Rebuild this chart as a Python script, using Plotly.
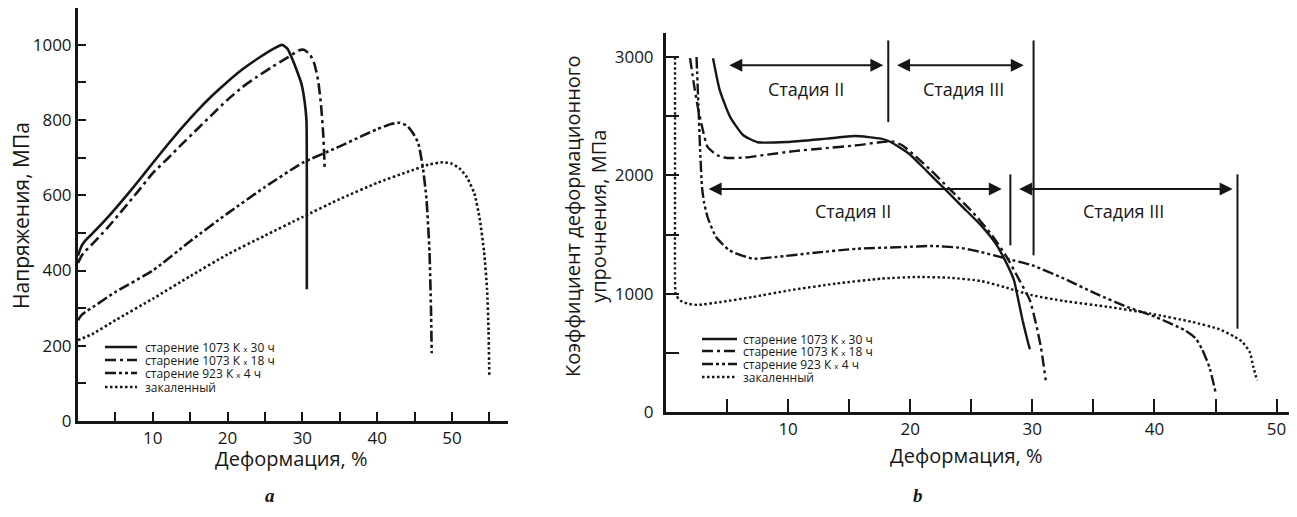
import plotly.graph_objects as go

# page body adds an 8px margin; lay out in screenshot pixels and compensate
OFF = 8
W, H = 1297 - OFF, 517 - OFF

# ---------------- Panel a: stress vs strain ----------------
a_30h_x = [0, 0.5, 1, 2, 4, 6, 8, 10, 12, 14, 16, 18, 20, 22, 24, 26, 27.3, 28.0, 28.6, 29.3, 29.9, 30.3, 30.55, 30.6, 30.6]
a_30h_y = [440, 466, 480, 500, 542, 588, 636, 686, 735, 782, 826, 866, 902, 935, 963, 988, 1000, 990, 965, 930, 895, 850, 800, 650, 350]

a_18h_x = [0, 0.5, 1, 2, 4, 6, 8, 10, 12, 14, 16, 18, 20, 22, 24, 26, 28, 29.5, 30.2, 31.0, 31.6, 32.1, 32.5, 32.8, 33.0]
a_18h_y = [420, 440, 452, 472, 515, 562, 610, 659, 698, 738, 777, 816, 854, 888, 916, 942, 966, 985, 987, 975, 950, 907, 840, 760, 668]

a_4h_x = [0, 0.5, 1, 2, 5, 10, 15, 20, 25, 30, 35, 38, 40, 42, 43, 44, 44.8, 45.5, 46.1, 46.6, 47.0, 47.2, 47.3]
a_4h_y = [268, 282, 290, 303, 343, 400, 478, 552, 622, 686, 730, 758, 776, 790, 793, 785, 765, 739, 676, 590, 450, 300, 180]

a_q_x = [0, 2, 5, 10, 15, 20, 25, 30, 35, 40, 44, 47, 48.8, 50, 51, 52, 53, 53.7, 54.3, 54.7, 54.9, 55.0]
a_q_y = [215, 232, 268, 325, 385, 443, 493, 542, 590, 633, 662, 682, 688, 684, 672, 648, 605, 540, 450, 350, 240, 120]

# ---------------- Panel b: strain hardening coefficient ----------------
b_30h_x = [3.85, 4.4, 5.25, 6.3, 7.5, 9.9, 13.1, 15.5, 17.6, 18.4, 19.9, 21.3, 22.8, 24.3, 25.8, 27.0, 27.9, 28.5, 28.8, 29.2, 29.6, 29.8]
b_30h_y = [2990, 2720, 2494, 2341, 2280, 2282, 2310, 2332, 2310, 2282, 2183, 2042, 1887, 1732, 1577, 1423, 1254, 1113, 972, 775, 606, 530]

b_18h_x = [1.97, 2.3, 2.6, 3.0, 3.4, 4.2, 5.0, 6.4, 8.3, 10.5, 12.6, 15.7, 17.5, 18.6, 19.4, 20.2, 21.7, 23.2, 25.1, 26.6, 27.9, 28.8, 29.8, 30.3, 30.7, 31.1]
b_18h_y = [2990, 2760, 2580, 2390, 2240, 2170, 2147, 2150, 2175, 2205, 2225, 2255, 2280, 2285, 2250, 2183, 2042, 1887, 1690, 1507, 1310, 1141, 944, 746, 549, 268]

b_4h_x = [2.5, 2.65, 2.8, 2.95, 3.1, 3.4, 4.1, 5.2, 7.1, 9.0, 12.0, 15.7, 19.5, 21.7, 24.0, 25.8, 27.9, 30.0, 32.6, 35.2, 37.8, 40.1, 42.5, 43.4, 43.9, 44.5, 45.0]
b_4h_y = [3000, 2600, 2200, 1900, 1780, 1648, 1479, 1366, 1296, 1310, 1344, 1380, 1394, 1403, 1389, 1352, 1296, 1239, 1127, 1000, 887, 803, 690, 620, 530, 380, 169]

b_q_x = [0.74, 0.74, 0.74, 0.8, 1.2, 1.8, 2.6, 4.5, 7.1, 10.1, 13.9, 17.6, 20.6, 23.2, 25.8, 27.7, 30.0, 32.6, 36.3, 39.7, 43.1, 45.3, 46.5, 47.2, 47.8, 48.1, 48.4]
b_q_y = [3000, 2000, 1100, 990, 940, 915, 905, 930, 972, 1028, 1085, 1127, 1141, 1135, 1107, 1056, 986, 938, 887, 831, 761, 700, 640, 592, 507, 380, 268]

# stage markers (panel b)
stage_arrows = [(5.06, 17.8, 2930), (18.8, 29.3, 2930), (3.37, 27.5, 1885), (28.8, 46.4, 1885)]
stage_lines = [(18.2, 2450, 3140), (30.1, 1324, 3140), (28.2, 1408, 2008), (46.8, 704, 2008)]
stage_labels = [("Стадия II", 11.5, 2730), ("Стадия III", 24.4, 2730), ("Стадия II", 15.3, 1700), ("Стадия III", 37.5, 1700)]

series_names = ["старение 1073 К <span style='font-size:8px'>x</span> 30 ч",
                "старение 1073 К <span style='font-size:8px'>x</span> 18 ч",
                "старение 923 К <span style='font-size:8px'>x</span> 4 ч",
                "закаленный"]

a_ticks_x = [5, 10, 15, 20, 25, 30, 35, 40, 45, 50, 55]
a_ticks_y = list(range(0, 1001, 100))
b_ticks_x = [5, 10, 15, 20, 25, 30, 35, 40, 45, 50]
b_ticks_y = [0, 500, 1000, 1500, 2000, 2500, 3000]

DASH_SOLID = "solid"
DASH_DD = "11px,4px,3px,4px"
DASH_DDD = "11px,3px,3px,3px,3px,3px"
DASH_DOT = "2.5px,2.5px"
dashes = [DASH_SOLID, DASH_DD, DASH_DDD, DASH_DOT]
INK = "#161616"
FONT = "Open Sans"


def px(x):
    return (x - OFF) / W


def py(y):
    return 1 - (y - OFF) / H


fig = go.Figure()

a_series = [(a_30h_x, a_30h_y), (a_18h_x, a_18h_y), (a_4h_x, a_4h_y), (a_q_x, a_q_y)]
b_series = [(b_30h_x, b_30h_y), (b_18h_x, b_18h_y), (b_4h_x, b_4h_y), (b_q_x, b_q_y)]

for i, (xs, ys) in enumerate(a_series):
    fig.add_trace(go.Scatter(x=xs, y=ys, mode="lines", xaxis="x", yaxis="y",
                             line=dict(color=INK, width=2.6, dash=dashes[i], shape="spline", smoothing=0.5),
                             showlegend=False, hoverinfo="skip"))
for i, (xs, ys) in enumerate(b_series):
    fig.add_trace(go.Scatter(x=xs, y=ys, mode="lines", xaxis="x2", yaxis="y2",
                             line=dict(color=INK, width=2.4, dash=dashes[i], shape="spline", smoothing=0.5),
                             showlegend=False, hoverinfo="skip"))

tickfont = dict(family=FONT, size=17, color=INK)


def lab(vals, every):
    return [str(v) if v % every == 0 else "" for v in vals]


common = dict(showline=True, linecolor=INK, linewidth=3, ticks="inside", tickwidth=2, tickcolor=INK,
              showgrid=False, zeroline=False, tickfont=tickfont, automargin=False)

fig.update_layout(
    width=W, height=H, margin=dict(l=0, r=0, t=0, b=0, autoexpand=False),
    paper_bgcolor="white", plot_bgcolor="white",
    xaxis=dict(domain=[px(78), px(508)], range=[0, 57.5], anchor="y", ticklen=9,
               tickvals=a_ticks_x, ticktext=lab(a_ticks_x, 10), **common),
    yaxis=dict(domain=[py(421), py(8)], range=[0, 1098], anchor="x", ticklen=8,
               tickvals=a_ticks_y, ticktext=lab(a_ticks_y, 200), **common),
    xaxis2=dict(domain=[px(666), px(1290)], range=[0, 51.1], anchor="y2", ticklen=13,
                tickvals=b_ticks_x, ticktext=lab(b_ticks_x, 10), **common),
    yaxis2=dict(domain=[py(412), py(33)], range=[0, 3203], anchor="x2", ticklen=13,
                tickvals=b_ticks_y, ticktext=lab(b_ticks_y, 1000), ticklabelstandoff=6, **common),
)

ann = []
shapes = []


def text_at(t, x, y, size, angle=0, family=FONT):
    return dict(text=t, x=px(x), y=py(y), xref="paper", yref="paper", xanchor="center",
                yanchor="middle", textangle=angle, showarrow=False,
                font=dict(family=family, size=size, color=INK))


# axis titles
ann.append(text_at("Напряжения, МПа", 21, 216, 21, -90))
ann.append(text_at("Деформация, %", 291, 458, 20))
ann.append(text_at("Коэффициент деформационного<br>упрочнения, МПа", 585, 216, 20, -90))
ann.append(text_at("Деформация, %", 966, 455, 20))
ann.append(text_at("<b><i>a</i></b>", 270, 495, 19, 0, "Liberation Serif"))
ann.append(text_at("<b><i>b</i></b>", 918, 495, 19, 0, "Liberation Serif"))

# stage arrows, lines and labels
for x0, x1, yv in stage_arrows:
    ann.append(dict(x=x1, y=yv, ax=x0, ay=yv, xref="x2", yref="y2", axref="x2", ayref="y2",
                    text="", showarrow=True, arrowhead=2, arrowside="end+start", arrowsize=1.3,
                    arrowwidth=2, arrowcolor=INK))
for xv, y0, y1 in stage_lines:
    shapes.append(dict(type="line", xref="x2", yref="y2", x0=xv, x1=xv, y0=y0, y1=y1,
                       line=dict(color=INK, width=2)))
for t, xv, yv in stage_labels:
    ann.append(dict(text=t, x=xv, y=yv, xref="x2", yref="y2", xanchor="center", yanchor="middle",
                    showarrow=False, font=dict(family=FONT, size=18, color=INK)))

# legends (drawn manually for compact spacing)
legends = [dict(x0=105, x1=137, tx=143, rows=[347, 360, 373, 387]),
           dict(x0=702, x1=737, tx=741, rows=[339, 351, 364, 377])]
for lg in legends:
    for i, ry in enumerate(lg["rows"]):
        shapes.append(dict(type="line", xref="paper", yref="paper", x0=px(lg["x0"]), x1=px(lg["x1"]),
                           y0=py(ry), y1=py(ry), line=dict(color=INK, width=2.5, dash=dashes[i])))
        ann.append(dict(text=series_names[i], x=px(lg["tx"]), y=py(ry), xref="paper", yref="paper",
                        xanchor="left", yanchor="middle", showarrow=False,
                        font=dict(family=FONT, size=12, color=INK)))

fig.update_layout(annotations=ann, shapes=shapes)
fig.write_html("out.html")
